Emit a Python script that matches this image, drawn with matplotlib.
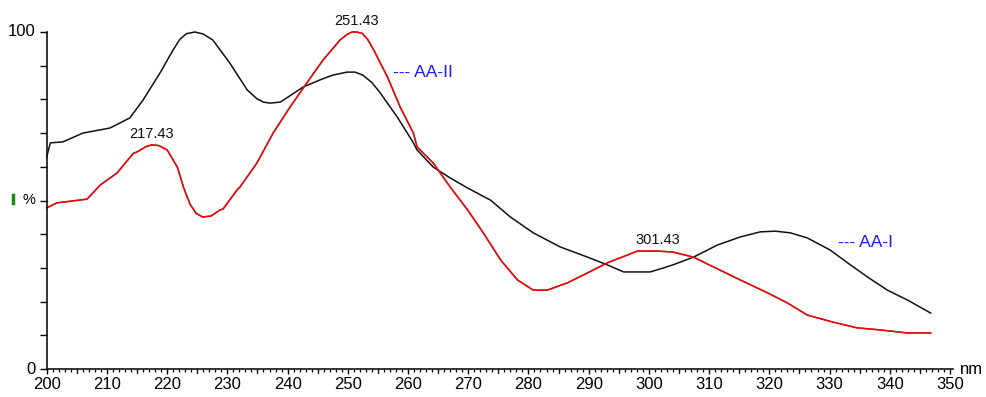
import matplotlib
matplotlib.use("Agg")
import matplotlib.pyplot as plt
from matplotlib.ticker import MultipleLocator

# UV absorption spectra (relative %, wavelength in nm)
aa1_nm = [200.0, 200.6, 202.7, 206.0, 210.5, 213.8, 216.0, 218.9, 221.0, 222.1,
          223.2, 224.6, 226.0, 227.6, 230.4, 233.3, 234.9, 236.0, 237.1, 238.8,
          240.5, 242.6, 245.4, 247.5, 249.9, 251.2, 252.5, 254.0, 255.4, 258.2,
          260.9, 261.5, 264.2, 267.0, 269.9, 273.7, 277.0, 280.8, 285.3, 289.8,
          293.1, 295.8, 300.2, 301.9, 304.0, 307.4, 311.4, 315.2, 318.5, 321.0,
          323.5, 326.3, 330.1, 333.0, 336.3, 339.6, 342.9, 346.8]
aa1_pct = [62.9, 67.1, 67.4, 70.0, 71.5, 74.5, 79.8, 88.1, 94.7, 97.8,
           99.5, 100.0, 99.4, 97.6, 90.8, 82.8, 80.2, 79.2, 78.9, 79.2,
           81.2, 83.7, 85.8, 87.2, 88.1, 88.1, 87.2, 85.0, 81.9, 74.8,
           67.1, 65.0, 59.9, 56.7, 53.7, 50.1, 45.1, 40.4, 36.2, 33.2,
           30.9, 28.8, 28.8, 29.7, 30.9, 33.2, 36.8, 39.2, 40.7, 40.9,
           40.4, 38.9, 35.3, 31.5, 27.3, 23.4, 20.5, 16.6]

aa2_nm = [200.0, 201.7, 206.7, 208.9, 211.7, 214.4, 215.0, 216.5, 217.43, 218.6,
          220.0, 221.7, 222.7, 223.8, 224.8, 225.9, 227.3, 228.8, 229.3, 231.6,
          232.1, 234.9, 237.6, 240.4, 243.2, 245.9, 248.7, 249.9, 250.7, 251.43,
          252.4, 253.3, 254.3, 256.6, 258.7, 260.9, 261.5, 264.2, 267.0, 269.9,
          272.5, 275.4, 278.2, 280.8, 283.1, 286.4, 289.8, 293.1, 296.4, 298.1,
          301.43, 304.0, 307.4, 310.7, 315.2, 319.7, 323.0, 326.3, 330.6, 334.6,
          338.4, 342.9, 346.8]
aa2_pct = [47.8, 49.3, 50.4, 54.6, 58.2, 64.0, 64.4, 66.0, 66.5, 66.3,
           65.0, 59.9, 54.0, 48.9, 46.2, 45.1, 45.4, 47.2, 47.5, 53.1,
           54.0, 61.1, 70.0, 77.7, 84.9, 91.7, 97.6, 99.3, 100.0, 100.0,
           99.6, 97.8, 94.7, 86.6, 77.7, 70.0, 65.9, 61.1, 54.0, 47.2,
           40.4, 32.3, 26.4, 23.4, 23.4, 25.5, 28.5, 31.5, 33.8, 35.0,
           35.0, 34.7, 33.2, 30.3, 26.4, 22.6, 19.6, 16.0, 13.9, 12.2,
           11.6, 10.7, 10.7]

peak_nm = [217.43, 251.43, 301.43]
peak_pct = [66.5, 100.0, 35.0]

plt.rcParams['font.family'] = ['Liberation Sans', 'DejaVu Sans']

fig = plt.figure(figsize=(9.86, 3.97), dpi=100)
fig.patch.set_facecolor('white')
ax = fig.add_axes([46.7 / 986, 28 / 397, (953 - 46.7) / 986, 337 / 397])

ax.plot(aa1_nm, aa1_pct, color='#111111', lw=1.1, clip_on=False,
        solid_joinstyle='round')
# red trace drawn over a faint dark shadow line
ax.plot(aa2_nm, aa2_pct, color='#555555', lw=1.1, clip_on=False,
        solid_joinstyle='round')
ax.plot(aa2_nm, aa2_pct, color='#ff0000', lw=1.05, clip_on=False,
        solid_joinstyle='round')

for x, y in zip(peak_nm, peak_pct):
    ax.annotate(f"{x:.2f}", (x, y), xytext=(0, 3), textcoords='offset points',
                ha='center', va='bottom', fontsize=10.5, color='#111111')

ax.text(257.5, 88.1, "--- AA-II", color='#1a1aff', fontsize=12.5, va='center')
ax.text(331.4, 37.4, "--- AA-I", color='#1a1aff', fontsize=12.5, va='center')

ax.set_xlim(200, 350.5)
ax.set_ylim(0, 100)
for side in ('top', 'right'):
    ax.spines[side].set_visible(False)
for side in ('left', 'bottom'):
    ax.spines[side].set_linewidth(1.2)
    ax.spines[side].set_color('#111111')

ax.xaxis.set_major_locator(MultipleLocator(10))
ax.xaxis.set_minor_locator(MultipleLocator(1))
ax.tick_params(axis='x', which='major', length=3.5, width=1.0, labelsize=12, pad=2)
ax.tick_params(axis='x', which='minor', length=1.8, width=0.9)

# 5 nm ticks slightly longer than the 1 nm ones
for x in range(205, 351, 10):
    ax.plot([x, x], [0, -1.1], color='#111111', lw=0.9, clip_on=False)

ax.yaxis.set_major_locator(MultipleLocator(10))
ax.set_yticklabels([])
ax.tick_params(axis='y', which='major', length=5, width=1.0)
ax.text(-0.012, 1.0, "100", transform=ax.transAxes, ha='right', va='center', fontsize=12)
ax.text(-0.012, 0.0, "0", transform=ax.transAxes, ha='right', va='center', fontsize=12)
ax.text(-0.012, 0.5, "%", transform=ax.transAxes, ha='right', va='center', fontsize=10.5)
fig.add_artist(plt.Line2D([13 / 986, 13 / 986], [1 - 195 / 397, 1 - 203 / 397],
                          color='#1a8a1a', lw=2.5))
ax.text(960 / 986, 1 - 369 / 397, "nm", transform=fig.transFigure,
        ha='left', va='center', fontsize=12)

fig.savefig("out.png", dpi=100, facecolor='white')
